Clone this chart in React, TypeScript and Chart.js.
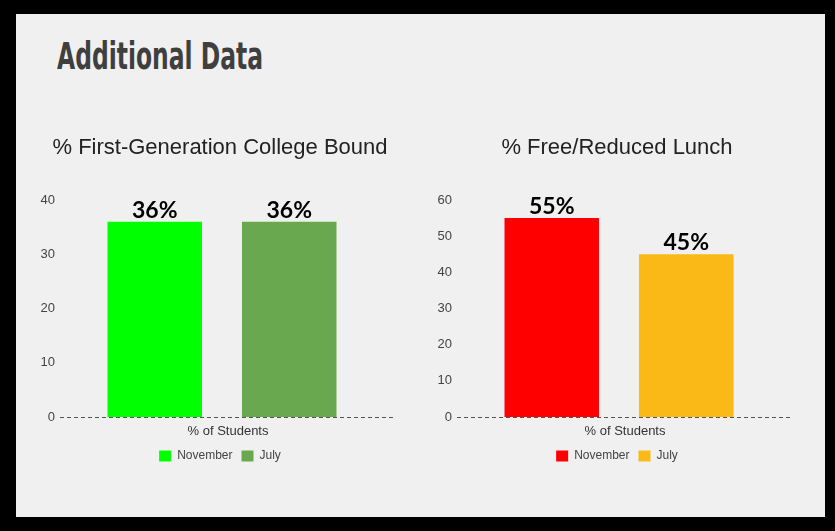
import React, { useEffect, useRef } from "react";
import { Chart, registerables } from "chart.js";

Chart.register(...registerables);

const pageTitle = "Additional Data";
const categories = ["% of Students"];
const seriesNames = ["November", "July"];

const chart1Title = "% First-Generation College Bound";
const chart1November = [36];
const chart1July = [36];
const chart1Colors = ["#00ff00", "#6aa84f"];
const chart1Max = 40;

const chart2Title = "% Free/Reduced Lunch";
const chart2November = [55];
const chart2July = [45];
const chart2Colors = ["#ff0000", "#fbb917"];
const chart2Max = 60;

const valueLabelPlugin = {
  id: "valueLabels",
  afterDatasetsDraw(chart: any) {
    const ctx = chart.ctx;
    ctx.save();
    ctx.font = "bold 23px Lato, 'Open Sans', sans-serif";
    ctx.fillStyle = "#000";
    ctx.textAlign = "center";
    ctx.textBaseline = "alphabetic";
    chart.data.datasets.forEach((ds: any, i: number) => {
      const meta = chart.getDatasetMeta(i);
      meta.data.forEach((bar: any, j: number) => {
        const v = ds.data[j];
        ctx.fillText(v + "%", bar.x, bar.y - 4);
      });
    });
    ctx.restore();
  },
};

// dashed zero baseline, extending a little past the plot area on the right
const baselinePlugin = {
  id: "baseline",
  beforeDatasetsDraw(chart: any) {
    const ctx = chart.ctx;
    const y = Math.round(chart.scales.y.getPixelForValue(0)) + 0.5;
    const { left, right } = chart.chartArea;
    ctx.save();
    ctx.strokeStyle = "#555";
    ctx.lineWidth = 1;
    ctx.setLineDash([4, 3]);
    ctx.beginPath();
    ctx.moveTo(left, y);
    ctx.lineTo(right + 12, y);
    ctx.stroke();
    ctx.restore();
  },
};

function BarPanel(props: {
  title: string;
  nov: number[];
  jul: number[];
  colors: string[];
  max: number;
  left: number;
}) {
  const ref = useRef<HTMLCanvasElement>(null);
  useEffect(() => {
    const canvas = ref.current!;
    const chart = new Chart(canvas, {
      type: "bar",
      data: {
        labels: categories,
        datasets: [
          {
            label: seriesNames[0],
            data: props.nov,
            backgroundColor: props.colors[0],
            borderWidth: 0,
          },
          {
            label: seriesNames[1],
            data: props.jul,
            backgroundColor: props.colors[1],
            borderWidth: 0,
          },
        ],
      },
      options: {
        animation: false,
        responsive: false,
        maintainAspectRatio: false,
        layout: { padding: { left: 0, right: 0, top: 0, bottom: 3 } },
        datasets: {
          bar: { categoryPercentage: 0.83, barPercentage: 0.703 },
        },
        scales: {
          x: {
            grid: { display: false, drawTicks: false },
            border: { display: false },
            afterFit: (s: any) => {
              s.height = 24;
            },
            ticks: {
              color: "#333",
              font: { family: "'Liberation Sans', Arial, sans-serif", size: 13 },
              padding: 7,
              labelOffset: 6,
            },
          },
          y: {
            min: 0,
            max: props.max,
            afterFit: (s: any) => {
              s.width = 40;
            },
            ticks: {
              stepSize: 10,
              color: "#444",
              padding: 5,
              font: { family: "'Liberation Sans', Arial, sans-serif", size: 13 },
            },
            grid: { display: false, drawTicks: false },
            border: { display: false },
          },
          yRight: {
            type: "linear",
            position: "right",
            display: true,
            afterFit: (s: any) => {
              s.width = 36;
            },
            ticks: { display: false },
            grid: { display: false, drawTicks: false },
            border: { display: false },
          },
        },
        plugins: {
          title: {
            display: true,
            text: props.title,
            color: "#222",
            font: { family: "'Liberation Sans', Arial, sans-serif", size: 22, weight: "normal" },
            padding: { top: 10, bottom: 38.6 },
          },
          legend: {
            display: true,
            position: "bottom",
            labels: {
              boxWidth: 12,
              boxHeight: 11,
              padding: 9,
              color: "#444",
              font: { family: "'Liberation Sans', Arial, sans-serif", size: 12 },
            },
          },
          tooltip: { enabled: false },
        },
      },
      plugins: [baselinePlugin, valueLabelPlugin],
    } as any);
    return () => chart.destroy();
  }, []);
  return (
    <canvas
      ref={ref}
      width={400}
      height={350}
      style={{ position: "absolute", left: props.left, top: 125, width: 400, height: 350 }}
    />
  );
}

export default function App() {
  return (
    <div
      style={{
        position: "fixed",
        left: 0,
        top: 0,
        width: 835,
        height: 531,
        background: "#000",
        overflow: "hidden",
      }}
    >
      <div
        style={{
          position: "absolute",
          left: 16,
          top: 14,
          width: 809,
          height: 503,
          background: "#f0f0f0",
        }}
      />
      <div
        style={{
          position: "absolute",
          left: 57,
          top: 38,
          fontFamily: "'Liberation Sans Narrow', 'DejaVu Sans Condensed', sans-serif",
          fontWeight: "bold",
          fontSize: 37,
          lineHeight: 1,
          color: "#3f3f3f",
          whiteSpace: "nowrap",
          transformOrigin: "left top",
          transform: "scaleX(0.704)",
        }}
      >
        {pageTitle}
      </div>
      <BarPanel
        title={chart1Title}
        nov={chart1November}
        jul={chart1July}
        colors={chart1Colors}
        max={chart1Max}
        left={20}
      />
      <BarPanel
        title={chart2Title}
        nov={chart2November}
        jul={chart2July}
        colors={chart2Colors}
        max={chart2Max}
        left={417}
      />
    </div>
  );
}
